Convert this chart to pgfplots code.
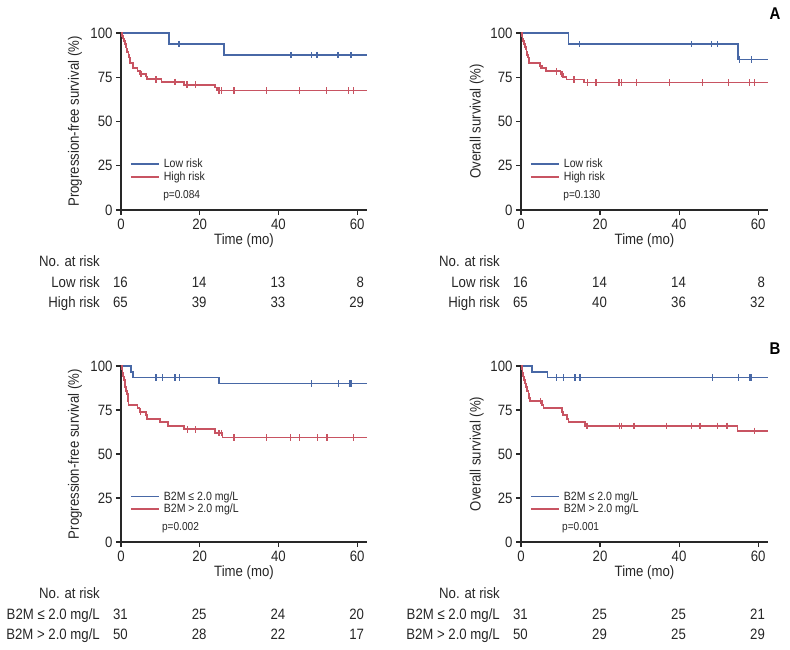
\documentclass[border=0pt]{standalone}
\usepackage{fontspec}
\setmainfont[FakeStretch=0.88]{Liberation Sans}
\usepackage{pgfplots}
\pgfplotsset{compat=1.18}

\definecolor{kmblue}{RGB}{72,104,166}
\definecolor{kmred}{RGB}{200,84,98}
\definecolor{axgray}{RGB}{40,40,40}

\newcommand{\fsz}[1]{\fontsize{#1}{#1}\selectfont}

% number-at-risk row: label, then counts at 0/20/40/60 months
\newcommand{\riskrow}[6]{%
  \node[anchor=base east, inner sep=0pt] at ([xshift=-21pt,yshift=-#6]axis cs:0,0) {#1};
  \node[anchor=base east, inner sep=0pt] at ([xshift=7pt,yshift=-#6]axis cs:0,0) {#2};
  \node[anchor=base east, inner sep=0pt] at ([xshift=7pt,yshift=-#6]axis cs:20,0) {#3};
  \node[anchor=base east, inner sep=0pt] at ([xshift=7pt,yshift=-#6]axis cs:40,0) {#4};
  \node[anchor=base east, inner sep=0pt] at ([xshift=7pt,yshift=-#6]axis cs:60,0) {#5};
}

\pgfplotsset{
  km/.style={
    scale only axis,
    xmin=0, xmax=62.5, ymin=0, ymax=100,
    axis x line=bottom, axis y line=left,
    axis line style={-, line width=1.1pt, axgray},
    xtick={0,20,40,60}, ytick={0,25,50,75,100},
    tick align=outside, major tick length=5pt,
    tick style={line width=1.1pt, axgray},
    /pgf/number format/assume math mode=true,
    tick label style={font=\fsz{15}, text=black!85},
    label style={font=\fsz{15}, text=black!85},
    xlabel={Time (mo)},
    xlabel style={at={(axis description cs:0.5,0)}, anchor=center, yshift=-31pt},
    clip=false,
    legend cell align=left,
    legend style={draw=none, fill=none, at={(axis description cs:0.036,0.30)},
      anchor=north west, font=\fsz{12}, row sep=-1.5pt, inner sep=0pt,
      text=black!85},
    legend image code/.code={\draw[#1, line width=1.8pt] (0pt,0pt) -- (28pt,0pt); \path (30pt,0pt);},
  },
  kmline/.style={const plot, line width=1.8pt},
  cens/.style={only marks, mark=|, mark size=3.3pt, mark options={line width=1.3pt}, forget plot},
}

\begin{document}
\begin{tikzpicture}
\path[use as bounding box] (0,0) rectangle (790pt,650pt);

% ---------- A: PFS by risk ----------
\begin{axis}[km, at={(121pt,440pt)}, anchor=south west, width=246pt, height=177pt,
  ylabel={Progression-free survival (\%)},
  ylabel style={at={(axis description cs:-0.187,0.5)}, anchor=center}]
\addplot[kmblue, kmline] coordinates {(0,100) (12.1,93.75) (26.2,87.5) (62.5,87.5)};
\addlegendentry{Low risk}
\addplot[kmred, kmline] coordinates {
  (0,100) (0.25,98.5) (0.5,96.9) (0.75,95.4) (1.0,93.8) (1.2,92.3) (1.4,90.8)
  (1.6,89.2) (1.9,87.7) (2.1,86.2) (2.2,84.6) (2.3,83.1) (3.0,81.5) (3.1,80.0)
  (4.2,78.5) (4.8,76.9) (6.4,75.4) (6.7,73.8) (10.3,72.3) (16.0,70.8)
  (23.9,69.2) (24.3,67.5) (62.5,67.5)};
\addlegendentry{High risk}
\addplot[kmblue, cens] coordinates {(14.7,93.75) (43.2,87.5) (48.4,87.5) (49.8,87.5) (55.1,87.5) (58.4,87.5)};
\addplot[kmred, cens] coordinates {(5.1,76.9) (8.9,73.8) (13.7,72.3) (16.8,70.8) (19.0,70.8)
  (24.9,67.5) (25.5,67.5) (28.7,67.5) (37.0,67.5) (45.4,67.5) (52.2,67.5) (57.8,67.5) (59.1,67.5)};
\node[anchor=west, inner sep=0pt, font=\fsz{11.5}, text=black!85] at (axis description cs:0.171,0.083) {p=0.084};
\begin{scope}[font=\fsz{15}, text=black!85]
\node[anchor=base east, inner sep=0pt] at ([xshift=-21pt,yshift=-56.5pt]axis cs:0,0) {No. at risk};
\riskrow{Low risk}{16}{14}{13}{8}{77.5pt}
\riskrow{High risk}{65}{39}{33}{29}{97.5pt}
\end{scope}
\end{axis}

% ---------- A: OS by risk ----------
\begin{axis}[km, at={(521pt,440pt)}, anchor=south west, width=247pt, height=177pt,
  ylabel={Overall survival (\%)},
  ylabel style={at={(axis description cs:-0.179,0.5)}, anchor=center}]
\addplot[kmblue, kmline] coordinates {(0,100) (12.0,93.75) (55.0,85.0) (62.5,85.0)};
\addlegendentry{Low risk}
\addplot[kmred, kmline] coordinates {
  (0,100) (0.2,98.5) (0.4,96.9) (0.6,95.4) (0.8,93.8) (1.0,92.3) (1.2,90.8)
  (1.4,89.2) (1.6,87.7) (1.8,86.2) (2.0,84.6) (2.1,83.1) (4.8,81.5) (5.3,80.0)
  (6.4,78.4) (10.0,76.8) (10.6,75.3) (11.5,73.7) (15.9,72.0) (62.5,72.0)};
\addlegendentry{High risk}
\addplot[kmblue, cens] coordinates {(14.8,93.75) (43.2,93.75) (48.2,93.75) (49.7,93.75) (55.3,85.0) (58.4,85.0)};
\addplot[kmred, cens] coordinates {(5.0,81.5) (8.9,78.4) (10.4,76.8) (13.4,73.7) (16.8,72.0) (19.0,72.0)
  (24.8,72.0) (25.5,72.0) (29.3,72.0) (37.5,72.0) (45.9,72.0) (52.5,72.0) (57.8,72.0) (59.0,72.0)};
\node[anchor=west, inner sep=0pt, font=\fsz{11.5}, text=black!85] at (axis description cs:0.171,0.083) {p=0.130};
\begin{scope}[font=\fsz{15}, text=black!85]
\node[anchor=base east, inner sep=0pt] at ([xshift=-21pt,yshift=-56.5pt]axis cs:0,0) {No. at risk};
\riskrow{Low risk}{16}{14}{14}{8}{77.5pt}
\riskrow{High risk}{65}{40}{36}{32}{97.5pt}
\end{scope}
\end{axis}

% ---------- B: PFS by B2M ----------
\begin{axis}[km, at={(121pt,108pt)}, anchor=south west, width=246pt, height=176pt,
  ylabel={Progression-free survival (\%)},
  ylabel style={at={(axis description cs:-0.187,0.5)}, anchor=center}]
\addplot[kmblue, kmline] coordinates {(0,100) (2.5,96.8) (3.0,93.5) (24.9,90.0) (62.5,90.0)};
\addlegendentry{B2M ≤ 2.0 mg/L}
\addplot[kmred, kmline] coordinates {
  (0,100) (0.2,98) (0.4,96) (0.6,94) (0.8,92) (1.0,90) (1.1,88) (1.3,86) (1.5,84)
  (1.7,82) (1.8,80) (1.9,78) (4.2,76) (4.7,74) (6.4,72) (6.7,70) (9.9,68)
  (12.0,66) (16.0,64) (23.9,61.9) (25.8,59.4) (62.5,59.4)};
\addlegendentry{B2M > 2.0 mg/L}
\addplot[kmblue, cens] coordinates {(8.9,93.5) (10.6,93.5) (13.7,93.5) (14.8,93.5) (48.4,90) (55.2,90) (58.0,90) (58.4,90)};
\addplot[kmred, cens] coordinates {(5.0,74) (16.9,64) (19.0,64) (24.7,61.9) (25.1,61.9) (25.5,61.9)
  (28.7,59.4) (37.0,59.4) (43.1,59.4) (45.4,59.4) (49.9,59.4) (52.3,59.4) (59.1,59.4)};
\node[anchor=west, inner sep=0pt, font=\fsz{11.5}, text=black!85] at (axis description cs:0.166,0.079) {p=0.002};
\begin{scope}[font=\fsz{15}, text=black!85]
\node[anchor=base east, inner sep=0pt] at ([xshift=-21pt,yshift=-56.5pt]axis cs:0,0) {No. at risk};
\riskrow{B2M ≤ 2.0 mg/L}{31}{25}{24}{20}{77.5pt}
\riskrow{B2M > 2.0 mg/L}{50}{28}{22}{17}{97.5pt}
\end{scope}
\end{axis}

% ---------- B: OS by B2M ----------
\begin{axis}[km, at={(521pt,108pt)}, anchor=south west, width=247pt, height=176pt,
  ylabel={Overall survival (\%)},
  ylabel style={at={(axis description cs:-0.179,0.5)}, anchor=center}]
\addplot[kmblue, kmline] coordinates {(0,100) (2.7,96.8) (6.7,93.5) (62.5,93.5)};
\addlegendentry{B2M ≤ 2.0 mg/L}
\addplot[kmred, kmline] coordinates {
  (0,100) (0.2,98) (0.4,96) (0.6,94) (0.8,92) (1.1,90) (1.3,88) (1.6,86) (1.9,84)
  (2.1,82) (2.3,80) (5.3,78) (5.7,76) (10.3,74) (10.7,72) (11.6,70) (12.0,68)
  (16.2,65.9) (54.8,63.1) (62.5,63.1)};
\addlegendentry{B2M > 2.0 mg/L}
\addplot[kmblue, cens] coordinates {(8.9,93.5) (10.7,93.5) (13.7,93.5) (14.9,93.5) (48.5,93.5) (55.0,93.5) (57.8,93.5) (58.2,93.5)};
\addplot[kmred, cens] coordinates {(5.0,80) (16.7,65.9) (24.9,65.9) (25.5,65.9) (28.6,65.9) (36.9,65.9)
  (43.2,65.9) (45.3,65.9) (49.7,65.9) (52.1,65.9) (59.0,63.1)};
\node[anchor=west, inner sep=0pt, font=\fsz{11.5}, text=black!85] at (axis description cs:0.166,0.079) {p=0.001};
\begin{scope}[font=\fsz{15}, text=black!85]
\node[anchor=base east, inner sep=0pt] at ([xshift=-21pt,yshift=-56.5pt]axis cs:0,0) {No. at risk};
\riskrow{B2M ≤ 2.0 mg/L}{31}{25}{25}{21}{77.5pt}
\riskrow{B2M > 2.0 mg/L}{50}{29}{25}{29}{97.5pt}
\end{scope}
\end{axis}

\node[font=\bfseries\fsz{17}] at (775pt,636pt) {A};
\node[font=\bfseries\fsz{17}] at (775pt,301pt) {B};
\end{tikzpicture}
\end{document}
